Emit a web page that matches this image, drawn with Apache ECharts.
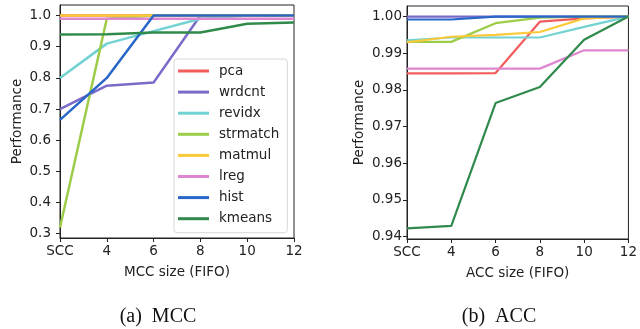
<!DOCTYPE html>
<html>
<head>
<meta charset="utf-8">
<script src="https://cdn.jsdelivr.net/npm/echarts@6/dist/echarts.min.js"></script>
<style>
  html, body { margin: 0; padding: 0; background: #fff; }
  #chart { width: 640px; height: 329px; }
</style>
</head>
<body>
<div id="chart"></div>
<script>
// ---- data ----
var xPositions = [2, 4, 6, 8, 10, 12];
var xTickLabels = ['SCC', '4', '6', '8', '10', '12'];
var seriesNames = ['pca', 'wrdcnt', 'revidx', 'strmatch', 'matmul', 'lreg', 'hist', 'kmeans'];

// (a) MCC
var mccPca      = [1.000, 1.000, 1.000, 1.000, 1.000, 1.000];
var mccWrdcnt   = [0.700, 0.775, 0.785, 1.000, 1.000, 1.000];
var mccRevidx   = [0.800, 0.910, 0.950, 0.990, 1.000, 1.000];
var mccStrmatch = [0.320, 0.990, 1.000, 1.000, 1.000, 1.000];
var mccMatmul   = [1.000, 1.000, 1.000, 1.000, 1.000, 1.000];
var mccLreg     = [0.990, 0.990, 0.990, 0.990, 0.990, 0.990];
var mccHist     = [0.665, 0.800, 1.000, 1.000, 1.000, 1.000];
var mccKmeans   = [0.939, 0.940, 0.946, 0.946, 0.974, 0.978];
var mccYTicks   = [0.3, 0.4, 0.5, 0.6, 0.7, 0.8, 0.9, 1.0];

// (b) ACC
var accPca      = [0.9845, 0.9845, 0.9846, 0.9986, 0.9995, 1.0000];
var accWrdcnt   = [1.0000, 1.0000, 1.0000, 1.0000, 1.0000, 1.0000];
var accRevidx   = [0.9935, 0.9943, 0.9943, 0.9943, 0.9972, 1.0000];
var accStrmatch = [0.9931, 0.9931, 0.9982, 0.9997, 1.0000, 1.0000];
var accMatmul   = [0.9930, 0.9945, 0.9950, 0.9958, 0.9995, 1.0000];
var accLreg     = [0.9858, 0.9858, 0.9858, 0.9858, 0.9908, 0.9908];
var accHist     = [0.9992, 0.9992, 1.0000, 1.0000, 1.0000, 1.0000];
var accKmeans   = [0.9422, 0.9429, 0.9764, 0.9808, 0.9937, 1.0000];
var accYTicks   = [0.94, 0.95, 0.96, 0.97, 0.98, 0.99, 1.00];

var captions = ['(a)  MCC', '(b)  ACC'];
var xAxisTitles = ['MCC size (FIFO)', 'ACC size (FIFO)'];
var yAxisTitle = 'Performance';

// ---- styling ----
var colors = ['#f25c5c', '#7a6bc9', '#72d2d2', '#9ccc48', '#fbc93a', '#df86d0', '#2866c8', '#2f8a4b'];
var FONT = 'DejaVu Sans';
var INK = '#222';

var mccData = [mccPca, mccWrdcnt, mccRevidx, mccStrmatch, mccMatmul, mccLreg, mccHist, mccKmeans];
var accData = [accPca, accWrdcnt, accRevidx, accStrmatch, accMatmul, accLreg, accHist, accKmeans];

function pairs(vals) {
  return xPositions.map(function (x, i) { return [x, vals[i]]; });
}

function dataRange(sets) {
  var lo = Infinity, hi = -Infinity;
  sets.forEach(function (s) { s.forEach(function (v) { lo = Math.min(lo, v); hi = Math.max(hi, v); }); });
  var m = (hi - lo) * 0.05;
  return [lo - m, hi + m];
}
var mccRange = dataRange(mccData);
var accRange = dataRange(accData);

function makeX(idx, title) {
  return {
    type: 'value', gridIndex: idx, min: 2, max: 12, interval: 2,
    name: title, nameLocation: 'middle', nameGap: 27,
    nameTextStyle: { fontFamily: FONT, fontSize: 13.5, color: INK },
    axisLine: { show: true, lineStyle: { color: INK, width: 1 } },
    axisTick: { show: true, length: 4, lineStyle: { color: INK } },
    splitLine: { show: false },
    axisLabel: {
      fontFamily: FONT, fontSize: 13.5, color: INK, margin: 6,
      formatter: function (v) { var i = xPositions.indexOf(v); return i >= 0 ? xTickLabels[i] : ''; }
    }
  };
}
function makeY(idx, range, ticks, digits, labelMargin, gap) {
  return {
    type: 'value', gridIndex: idx, min: range[0], max: range[1],
    name: yAxisTitle, nameLocation: 'middle', nameGap: gap,
    nameTextStyle: { fontFamily: FONT, fontSize: 13.5, color: INK },
    axisLine: { show: true, lineStyle: { color: INK, width: 1 } },
    axisTick: { show: true, length: 4, lineStyle: { color: INK }, customValues: ticks },
    splitLine: { show: false },
    axisLabel: {
      fontFamily: FONT, fontSize: 13.5, color: INK, margin: labelMargin,
      customValues: ticks,
      formatter: function (v) { return Number(v).toFixed(digits); }
    }
  };
}

var series = [];
seriesNames.forEach(function (n, i) {
  series.push({
    name: n, type: 'line', xAxisIndex: 0, yAxisIndex: 0,
    data: pairs(mccData[i]), symbol: 'none', z: 2 + i,
    lineStyle: { color: colors[i], width: 2.5 }, itemStyle: { color: colors[i] },
    emphasis: { disabled: true }
  });
});
seriesNames.forEach(function (n, i) {
  series.push({
    name: n, type: 'line', xAxisIndex: 1, yAxisIndex: 1,
    data: pairs(accData[i]), symbol: 'none', z: 2 + i,
    lineStyle: { color: colors[i], width: 2.2 }, itemStyle: { color: colors[i] },
    emphasis: { disabled: true }
  });
});

var chart = echarts.init(document.getElementById('chart'), null, { renderer: 'canvas' });
chart.setOption({
  animation: false,
  backgroundColor: '#fff',
  grid: [
    { left: 60, top: 5, width: 234, height: 233, show: true, borderColor: INK, borderWidth: 1, backgroundColor: 'transparent' },
    { left: 407, top: 6, width: 227, height: 233, show: true, borderColor: INK, borderWidth: 1, backgroundColor: 'transparent' }
  ],
  xAxis: [makeX(0, xAxisTitles[0]), makeX(1, xAxisTitles[1])],
  yAxis: [
    makeY(0, mccRange, mccYTicks, 1, 9, 36),
    makeY(1, accRange, accYTicks, 2, 5, 41)
  ],
  legend: {
    data: seriesNames, orient: 'vertical', left: 174, top: 59,
    icon: 'rect', itemWidth: 31, itemHeight: 3, itemGap: 7.1,
    padding: [5, 8, 7, 4],
    backgroundColor: 'rgba(255,255,255,0.85)', borderColor: '#d8d8d8', borderWidth: 1, borderRadius: 3,
    textStyle: { fontFamily: FONT, fontSize: 13.5, color: INK, lineHeight: 14, padding: [0, 0, 0, 5] },
    selectedMode: false
  },
  title: [
    { text: captions[0], left: 153, top: 302, textAlign: 'center',
      textStyle: { fontFamily: 'Liberation Serif', fontSize: 20, fontWeight: 'normal', color: '#111' } },
    { text: captions[1], left: 494, top: 302, textAlign: 'center',
      textStyle: { fontFamily: 'Liberation Serif', fontSize: 20, fontWeight: 'normal', color: '#111' } }
  ],
  series: series
});
</script>
</body>
</html>
